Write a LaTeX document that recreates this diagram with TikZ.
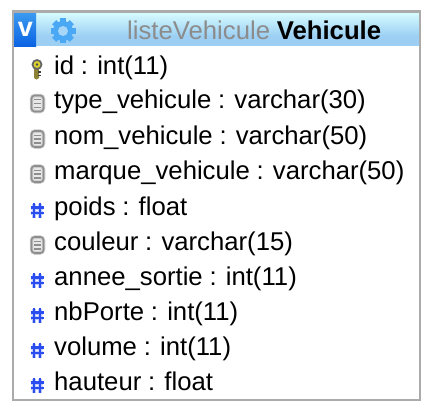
\documentclass[tikz,border=0pt]{standalone}
\usepackage{fontspec}
\setmainfont[WordSpace=0.95]{Liberation Sans}
\usetikzlibrary{shapes.geometric}
\definecolor{framegray}{HTML}{ABABAB}
\definecolor{headtop}{HTML}{D8FDFF}
\definecolor{headmid}{HTML}{9CCFF3}
\definecolor{vblue}{HTML}{0B63E3}
\definecolor{vtop}{HTML}{3C9BF0}
\definecolor{gearblue}{HTML}{4AA8F4}
\definecolor{gearin}{HTML}{A6D6F8}
\definecolor{hashblue}{HTML}{2A4DF0}
\definecolor{docgray}{HTML}{8E8E8E}
\definecolor{docfill}{HTML}{E8E8E8}
\definecolor{keygold}{HTML}{C8B84A}
\definecolor{titlegray}{HTML}{8C8C8C}
\tikzset{
  x=1pt,y=-1pt,
  rowtext/.style={anchor=base west,inner sep=0pt,font=\fontsize{25.7}{28}\selectfont,text=black},
  hashicon/.pic={
    \draw[hashblue!30,line width=4pt]
      (-3,-6.5)--(-3,8) (3,-6.5)--(3,8) (-6,-2.5)--(6,-2.5) (-6,3)--(6,3);
    \draw[hashblue,line width=2.4pt,line cap=butt]
      (-3,-7.5)--(-3,8) (3,-7.5)--(3,8) (-6.5,-2.5)--(6.5,-2.5) (-6.5,3)--(6.5,3);
  },
  docicon/.pic={
    \draw[docgray!45,line width=3.5pt,rounded corners=3.5pt,fill=docfill] (-6,-8) rectangle (6,8);
    \draw[docgray,line width=1.6pt,rounded corners=3pt] (-6,-8) rectangle (6,8);
    \draw[docgray,line width=1.4pt] (-3.5,-3.8)--(3.5,-3.8) (-3.5,0)--(3.5,0) (-3.5,3.8)--(3.5,3.8);
  },
  keyicon/.pic={
    \fill[keygold!70!black] (-2.5,-2)--(2.5,-2)--(2.5,9)--(0,10.5)--(-2.5,9)--cycle;
    \draw[black!75,line width=1.3pt] (1,3)--(4.5,3) (1,6.3)--(4.5,6.3);
    \draw[black!60,fill=keygold!60!yellow,line width=1.8pt] (0.5,-4.5) circle (4.5);
    \fill[black!70] (0.5,-4.5) circle (1.4);
  }
}
\begin{document}
\begin{tikzpicture}
\useasboundingbox (0,0) rectangle (430,412);
\fill[white] (0,0) rectangle (430,412);
% header
\shade[top color=headtop,bottom color=headmid] (13,12) rectangle (420,36);
\fill[headmid] (13,36) rectangle (420,46.5);
\shade[top color=vtop,bottom color=vblue] (14,12) rectangle (36,46.5);
\node[inner sep=0pt,text=white,font=\fontsize{27}{29}\bfseries\selectfont] (vmark) at (25.5,29.5) {v};
% gear
\fill[gearblue] (63,31) circle (10);
\foreach \a in {0,45,...,315}{\fill[gearblue,rotate around={\a:(63,31)}] (60,18.5) rectangle (66,24);}
\fill[gearin] (63,31) circle (5);
% frame
\draw[framegray,line width=2.6pt] (13,11.5) rectangle (420,400);
% title
\node[anchor=base west,inner sep=0pt,font=\fontsize{25.7}{28}\selectfont] (title) at (127,39) {\textcolor{titlegray}{listeVehicule} \textcolor{black}{\bfseries Vehicule}};
% rows
\node[rowtext] (r1) at (54,74) {id : int(11)};
\node[rowtext] (r2) at (54,108.5) {type\_vehicule : varchar(30)};
\node[rowtext] (r3) at (54,144) {nom\_vehicule : varchar(50)};
\node[rowtext] (r4) at (54,179.5) {marque\_vehicule : varchar(50)};
\node[rowtext] (r5) at (54,215) {poids : float};
\node[rowtext] (r6) at (54,250) {couleur : varchar(15)};
\node[rowtext] (r7) at (54,285) {annee\_sortie : int(11)};
\node[rowtext] (r8) at (54,320) {nbPorte : int(11)};
\node[rowtext] (r9) at (54,355) {volume : int(11)};
\node[rowtext] (r10) at (54,390) {hauteur : float};
% icons
\pic at (36.5,69) {keyicon};
\pic at (37.5,103.5) {docicon};
\pic at (37.5,139) {docicon};
\pic at (37.5,174) {docicon};
\pic at (37,210) {hashicon};
\pic at (37.5,245) {docicon};
\pic at (37,280) {hashicon};
\pic at (37,315) {hashicon};
\pic at (37,350) {hashicon};
\pic at (37,385) {hashicon};
\end{tikzpicture}
\end{document}
